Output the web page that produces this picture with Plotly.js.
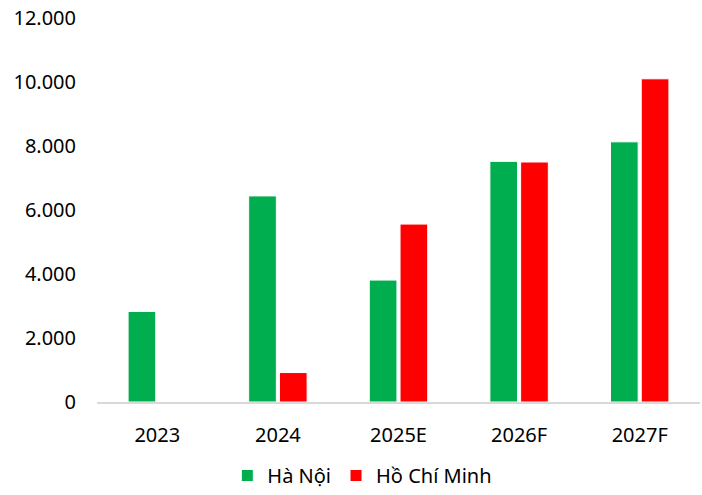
<!DOCTYPE html>
<html>
<head>
<meta charset="utf-8">
<script src="https://cdn.plot.ly/plotly-3.0.1.min.js"></script>
<style>html,body{margin:0;padding:0;background:#fff;}#chart{width:702px;height:495px;}</style>
</head>
<body>
<div id="chart"></div>
<script>
const categories = ["2023", "2024", "2025E", "2026F", "2027F"];
const hanoi = [2830, 6440, 3810, 7520, 8130];
const hcm = [null, 920, 5560, 7500, 10100];
const seriesNames = ["Hà Nội", "Hồ Chí Minh"];
const yTicks = [0, 2000, 4000, 6000, 8000, 10000, 12000];

const font = "'Noto Sans', 'Open Sans', sans-serif";

const data = [
  {type: "bar", x: categories, y: hanoi, name: seriesNames[0],
   marker: {color: "#00ad4f", line: {color: "#ffffff", width: 1}}},
  {type: "bar", x: categories, y: hcm, name: seriesNames[1],
   marker: {color: "#ff0000", line: {color: "#ffffff", width: 1}}}
];

const layout = {
  width: 702, height: 495,
  margin: {l: 97, r: 2, t: 17.5, b: 92.5, autoexpand: false},
  paper_bgcolor: "#fff", plot_bgcolor: "#fff",
  separators: ",.",
  barmode: "group",
  bargap: 0.49,
  bargroupgap: 0.1,
  font: {family: font, size: 20, color: "#000"},
  xaxis: {
    type: "category",
    showgrid: false, zeroline: false,
    showline: true, linecolor: "#d9d9d9", linewidth: 2,
    ticks: "", ticklabelstandoff: 14,
    tickfont: {family: font, size: 20, color: "#000"},
    automargin: false,
    fixedrange: true
  },
  yaxis: {
    range: [0, 12000],
    tickvals: yTicks,
    tickformat: ",d",
    showgrid: false, zeroline: false, showline: false,
    ticks: "", ticklabelstandoff: 20,
    tickfont: {family: font, size: 20, color: "#000"},
    automargin: false,
    fixedrange: true
  },
  showlegend: true,
  legend: {
    orientation: "h", x: 0.44, xanchor: "center",
    yref: "container", y: 0, yanchor: "bottom",
    font: {family: font, size: 20, color: "#000"},
    itemwidth: 30, tracegroupgap: 0
  }
};

Plotly.newPlot("chart", data, layout, {displayModeBar: false, staticPlot: true});
</script>
</body>
</html>
